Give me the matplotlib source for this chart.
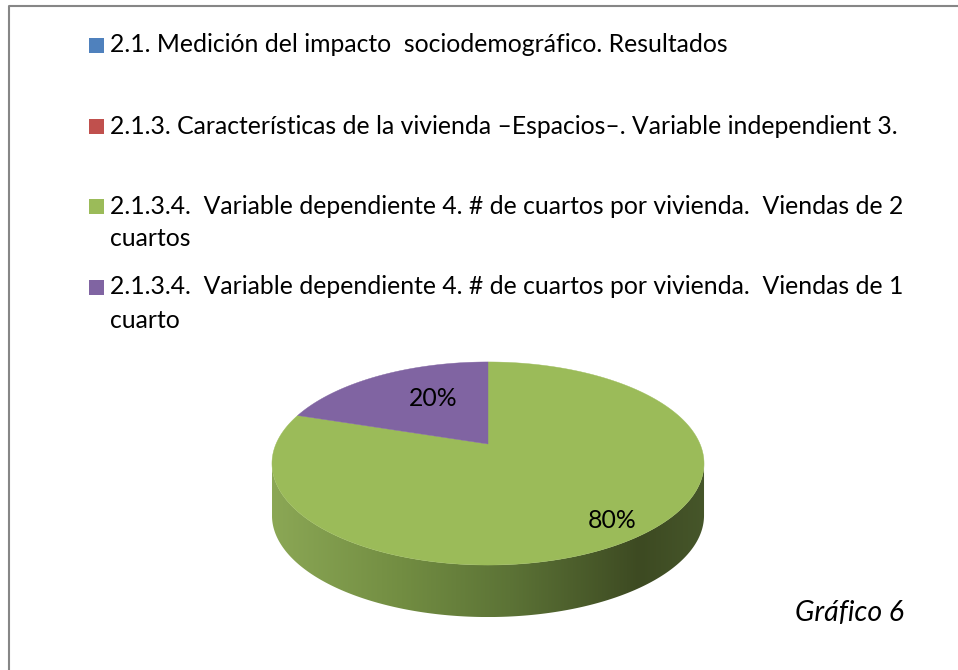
import numpy as np
import matplotlib.pyplot as plt
from matplotlib.patches import Polygon, Rectangle
from matplotlib.colors import LinearSegmentedColormap

# series shown in the legend (only the last two have a share of the pie)
labels = [
    "2.1. Medición del impacto  sociodemográfico. Resultados",
    "2.1.3. Características de la vivienda –Espacios–. Variable independient 3.",
    "2.1.3.4.  Variable dependiente 4. # de cuartos por vivienda.  Viendas de 2\ncuartos",
    "2.1.3.4.  Variable dependiente 4. # de cuartos por vivienda.  Viendas de 1\ncuarto",
]
values = [0, 0, 80, 20]
colors = ["#4F81BD", "#C0504D", "#9BBB59", "#8064A2"]
caption = "Gráfico 6"

W, H = 958, 670
fig = plt.figure(figsize=(W / 100, H / 100), dpi=100)
ax = fig.add_axes([0, 0, 1, 1])
ax.set_xlim(0, W)
ax.set_ylim(H, 0)
ax.axis("off")

FONT = "Lato"
fs = 17.8

# outer frame (cut off on the right and bottom)
ax.plot([9, 9, W + 5], [H + 5, 6, 6], color="#868686", lw=1.5, solid_capstyle="butt")

# legend
row_y = [45, 126, 206, 287]
for y, lab, c in zip(row_y, labels, colors):
    ax.add_patch(Rectangle((89, y - 7.5), 15, 15, color=c, lw=0))
    for i, line in enumerate(lab.split("\n")):
        ax.text(110, y + 33 * i, line, fontsize=fs, family=FONT,
                va="center", ha="left", color="#000000")

# 3d pie with a bit of perspective: circle (u, v), v > 0 is the back
cx, cy0, A, B, k, depth = 488, 444, 212, 97.8, 0.192, 52
total = float(sum(values))

def pt(t, dy=0.0):
    u, v = np.cos(t), np.sin(t)
    d = 1 + k * v
    return cx + A * u / d, cy0 - B * v / d + dy

# side wall (front), horizontal gradient
t = np.linspace(np.pi + np.arcsin(k), 2 * np.pi - np.arcsin(k), 300)
xs, ys = pt(t)
side = np.concatenate([np.column_stack([xs, ys]),
                       np.column_stack([xs[::-1], ys[::-1] + depth])])
side_poly = Polygon(side, closed=True, facecolor="none", edgecolor="none")
ax.add_patch(side_poly)
cmap = LinearSegmentedColormap.from_list("side", [
    (0.0, "#8ba755"), (0.3, "#728d42"), (0.55, "#5c7336"),
    (0.85, "#3d4a22"), (1.0, "#46562a")])
grad = np.linspace(0, 1, 256)[None, :]
im = ax.imshow(grad, cmap=cmap, extent=[xs.min(), xs.max(), ys.max() + depth, ys.min()],
               aspect="auto", zorder=1)
im.set_clip_path(side_poly)

# top faces: Excel starts at 12 o'clock and goes clockwise
start = np.pi / 2
for v, c in zip(values, colors):
    if v == 0:
        continue
    sweep = 2 * np.pi * v / total
    tt = np.linspace(start, start - sweep, 300)
    xs, ys = pt(tt)
    poly = np.vstack([[cx, cy0], np.column_stack([xs, ys])])
    ax.add_patch(Polygon(poly, closed=True, facecolor=c, edgecolor=c, lw=0.3, zorder=2))
    start -= sweep

# data labels
ax.text(433, 398, "20%", fontsize=fs, family=FONT, ha="center", va="center", zorder=3)
ax.text(612, 520, "80%", fontsize=fs, family=FONT, ha="center", va="center", zorder=3)

ax.text(850, 613, caption, fontsize=20.5, family=FONT, style="italic",
        ha="center", va="center")

fig.savefig("out.png", dpi=100)
